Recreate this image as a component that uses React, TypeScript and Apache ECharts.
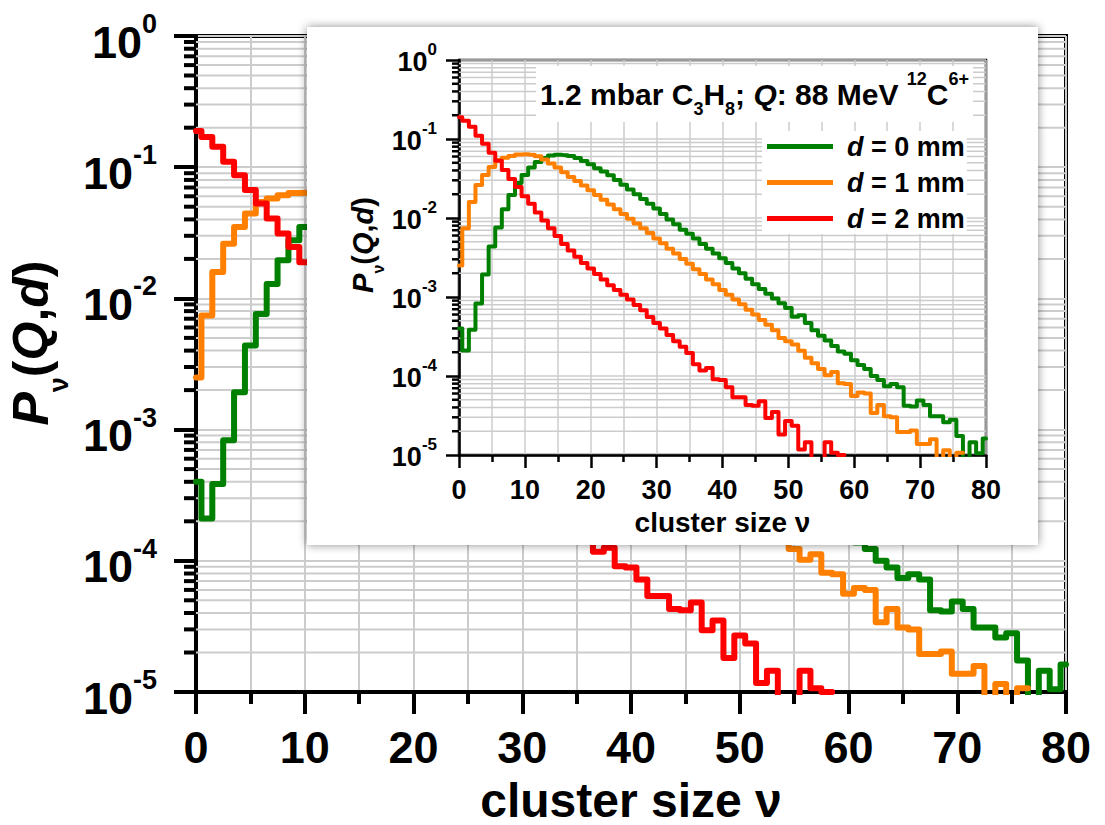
import React, { useEffect, useRef } from 'react';
import * as echarts from 'echarts';

const FONT = '"Liberation Sans", Arial, Helvetica, sans-serif';
const GRID_COLOR = '#cccccc';

// Bins with no counts are placed below the plotted range (drawn as drops to the axis).
const EMPTY = 1e-6;

// cluster size ν, one bin per integer
const clusterSizes: number[] = Array.from({ length: 81 }, (_, i) => i);

const seriesNames = ['d = 0 mm', 'd = 1 mm', 'd = 2 mm'];
const seriesColors = ['#008000', '#ff8000', '#ff0000'];

// P_ν(Q,d) for d = 0 mm
const pD0: (number | null)[] = [
  4.0e-4, 2.1e-4, 3.85e-4, 8.3e-4, 1.93e-3, 4.37e-3, 7.6e-3, 1.29e-2, 1.95e-2, 2.77e-2,
  3.5e-2, 4.37e-2, 5.13e-2, 5.75e-2, 6.17e-2, 6.31e-2, 6.25e-2, 6.1e-2, 5.75e-2, 5.25e-2,
  4.79e-2, 4.27e-2, 3.89e-2, 3.47e-2, 3.02e-2, 2.63e-2, 2.29e-2, 2.0e-2, 1.74e-2, 1.51e-2,
  1.32e-2, 1.12e-2, 9.55e-3, 8.32e-3, 7.08e-3, 6.31e-3, 5.5e-3, 4.68e-3, 4.07e-3, 3.55e-3,
  3.09e-3, 2.69e-3, 2.29e-3, 2.0e-3, 1.7e-3, 1.45e-3, 1.26e-3, 1.1e-3, 9.55e-4, 8.32e-4,
  7.24e-4, 5.62e-4, 5.89e-4, 4.68e-4, 3.8e-4, 3.24e-4, 2.82e-4, 2.4e-4, 2.04e-4, 1.91e-4,
  1.58e-4, 1.38e-4, 1.23e-4, 1.0e-4, 8.9e-5, 7.4e-5, 7.9e-5, 7.2e-5, 4.2e-5, 4.1e-5,
  4.9e-5, 4.3e-5, 3.1e-5, 3.1e-5, 2.6e-5, 2.8e-5, 1.74e-5, EMPTY, 1.45e-5, 1.05e-5,
  1.62e-5,
];

// P_ν(Q,d) for d = 1 mm
const pD1: (number | null)[] = [
  2.5e-3, 7.4e-3, 1.59e-2, 2.61e-2, 3.5e-2, 4.43e-2, 5.43e-2, 5.77e-2, 6.1e-2, 6.37e-2,
  6.4e-2, 6.3e-2, 6.03e-2, 5.5e-2, 4.9e-2, 4.37e-2, 3.8e-2, 3.31e-2, 2.95e-2, 2.57e-2,
  2.24e-2, 1.95e-2, 1.7e-2, 1.48e-2, 1.29e-2, 1.12e-2, 9.8e-3, 8.5e-3, 7.4e-3, 6.46e-3,
  5.5e-3, 4.79e-3, 4.07e-3, 3.55e-3, 3.02e-3, 2.63e-3, 2.24e-3, 1.95e-3, 1.66e-3, 1.45e-3,
  1.23e-3, 1.07e-3, 9.3e-4, 8.1e-4, 6.9e-4, 6.0e-4, 5.1e-4, 4.47e-4, 3.8e-4, 3.02e-4,
  2.75e-4, 2.51e-4, 2.09e-4, 1.7e-4, 1.45e-4, 1.23e-4, 1.02e-4, 1.12e-4, 8.1e-5, 7.9e-5,
  5.6e-5, 6.2e-5, 6.0e-5, 3.4e-5, 4.3e-5, 3.1e-5, 3.0e-5, 1.95e-5, 1.95e-5, 2.04e-5,
  1.38e-5, 1.38e-5, 1.58e-5, EMPTY, 1.15e-5, EMPTY, 1.07e-5, null, null, null,
  null,
];

// P_ν(Q,d) for d = 2 mm
const pD2: (number | null)[] = [
  0.189, 0.17, 0.143, 0.11, 0.087, 0.067, 0.053, 0.0406, 0.0312, 0.0247,
  0.0189, 1.51e-2, 1.17e-2, 9.3e-3, 7.4e-3, 5.9e-3, 4.68e-3, 3.89e-3, 3.24e-3, 2.69e-3,
  2.29e-3, 1.95e-3, 1.66e-3, 1.41e-3, 1.23e-3, 1.07e-3, 9.3e-4, 7.9e-4, 6.8e-4, 5.6e-4,
  4.68e-4, 3.98e-4, 3.31e-4, 2.75e-4, 2.34e-4, 1.95e-4, 1.41e-4, 1.17e-4, 1.26e-4, 9.1e-5,
  8.9e-5, 7.2e-5, 5.4e-5, 5.4e-5, 4.3e-5, 4.2e-5, 4.8e-5, 2.95e-5, 3.5e-5, 1.82e-5,
  2.7e-5, 2.34e-5, 1.17e-5, 1.45e-5, EMPTY, EMPTY, 1.45e-5, 1.07e-5, 1.0e-5, null,
  null, null, null, null, null, null, null, null, null, null,
  null, null, null, null, null, null, null, null, null, null,
  null,
];

const seriesValues = [pD0, pD1, pD2];

// Axis ranges
const X_MIN = 0;
const X_MAX = 80;
const X_STEP = 10;
const Y_MIN = 1e-5;
const Y_MAX = 1;

// Minor log positions 2..9 × 10^k inside the y range
const logMinorTicks: number[] = [];
for (let k = -5; k < 0; k++) {
  for (let m = 2; m <= 9; m++) logMinorTicks.push(m * Math.pow(10, k));
}

const exponentOf = (v: number) => Math.round(Math.log10(v));

type Sizes = {
  lineW: number;
  axisW: number;
  majorLen: number;
  minorLen: number;
  gridW: number;
  tickFont: number;
  supFont: number;
  labelLine: number;
  supHeight: number;
  labelPadTop: number;
  yLabelMargin: number;
  xLabelMargin: number;
  xNameFont: number;
  xNameGap: number;
  yNameFont: number;
  yNameLine: number;
  yNameSubFont: number;
  yNameSubHeight: number;
  yNameGap: number;
  yNameShift: number;
};

const mainSizes: Sizes = {
  lineW: 6, axisW: 4, majorLen: 22, minorLen: 12, gridW: 2,
  tickFont: 45, supFont: 27, labelLine: 60, supHeight: 24, labelPadTop: 12,
  yLabelMargin: 39, xLabelMargin: 33,
  xNameFont: 48, xNameGap: 84,
  yNameFont: 50, yNameLine: 78, yNameSubFont: 27, yNameSubHeight: 22, yNameGap: 156, yNameShift: 42,
};

const insetSizes: Sizes = {
  lineW: 4, axisW: 2.5, majorLen: 13, minorLen: 7, gridW: 1.5,
  tickFont: 27, supFont: 17, labelLine: 42, supHeight: 16, labelPadTop: 4,
  yLabelMargin: 22, xLabelMargin: 21,
  xNameFont: 28, xNameGap: 53,
  yNameFont: 29, yNameLine: 46, yNameSubFont: 16, yNameSubHeight: 16, yNameGap: 96, yNameShift: 25,
};

const bold = { fontFamily: FONT, fontWeight: 'bold' as const, color: '#000' };

function makeXAxis(gridIndex: number, s: Sizes, z: number) {
  return {
    type: 'value', gridIndex, z, min: X_MIN, max: X_MAX, interval: X_STEP,
    axisLine: { show: true, onZero: false, lineStyle: { color: '#000', width: s.axisW } },
    axisTick: { show: true, inside: false, length: s.majorLen, lineStyle: { color: '#000', width: s.axisW } },
    minorTick: { show: true, splitNumber: 2, length: s.minorLen, lineStyle: { color: '#000', width: s.axisW } },
    splitLine: { show: true, lineStyle: { color: GRID_COLOR, width: s.gridW } },
    minorSplitLine: { show: true, lineStyle: { color: GRID_COLOR, width: s.gridW } },
    axisLabel: { ...bold, fontSize: s.tickFont, margin: s.xLabelMargin },
    name: 'cluster size ν',
    nameLocation: 'middle',
    nameGap: s.xNameGap,
    nameTextStyle: { ...bold, fontSize: s.xNameFont },
  };
}

function makeYAxis(gridIndex: number, s: Sizes, z: number) {
  return {
    type: 'log', logBase: 10, gridIndex, z, min: Y_MIN, max: Y_MAX,
    axisLine: { show: true, lineStyle: { color: '#000', width: s.axisW } },
    axisTick: { show: true, inside: false, length: s.majorLen, lineStyle: { color: '#000', width: s.axisW } },
    minorTick: { show: false },
    splitLine: { show: true, lineStyle: { color: GRID_COLOR, width: s.gridW } },
    axisLabel: {
      margin: s.yLabelMargin,
      padding: [s.labelPadTop, 0, 0, 0],
      formatter: (v: number) => `{b|10}{s|${exponentOf(v)}}`,
      rich: {
        b: { ...bold, fontSize: s.tickFont, lineHeight: s.labelLine },
        s: { ...bold, fontSize: s.supFont, height: s.supHeight, verticalAlign: 'top' },
      },
    },
    name: '{i|P}{sub|ν}{n|(}{i|Q}{n|,}{i|d}{n|)}',
    nameLocation: 'middle',
    nameRotate: 90,
    nameGap: s.yNameGap,
    nameTextStyle: {
      align: 'center',
      verticalAlign: 'middle',
      padding: [0, 0, 0, s.yNameShift],
      rich: {
        i: { ...bold, fontStyle: 'italic', fontSize: s.yNameFont, lineHeight: s.yNameLine },
        n: { ...bold, fontSize: s.yNameFont, lineHeight: s.yNameLine },
        sub: { ...bold, fontSize: s.yNameSubFont, height: s.yNameSubHeight, verticalAlign: 'bottom' },
      },
    },
  };
}

// Gridlines and outer ticks at the minor log positions
function makeLogMinor(axisIndex: number, s: Sizes, z: number) {
  return {
    type: 'custom',
    xAxisIndex: axisIndex,
    yAxisIndex: axisIndex,
    z,
    silent: true,
    clip: false,
    data: logMinorTicks.map((v) => [X_MIN, v]),
    renderItem: (params: any, api: any) => {
      const y = api.coord([X_MIN, api.value(1)])[1];
      const cs = params.coordSys;
      return {
        type: 'group',
        children: [
          {
            type: 'line',
            shape: { x1: cs.x, y1: y, x2: cs.x + cs.width, y2: y },
            style: { stroke: GRID_COLOR, lineWidth: s.gridW },
          },
          {
            type: 'line',
            shape: { x1: cs.x - s.minorLen, y1: y, x2: cs.x, y2: y },
            style: { stroke: '#000', lineWidth: s.axisW },
          },
        ],
      };
    },
  };
}

function makeLines(axisIndex: number, s: Sizes, z: number) {
  return seriesValues.map((vals, k) => ({
    type: 'line',
    name: seriesNames[k],
    xAxisIndex: axisIndex,
    yAxisIndex: axisIndex,
    z,
    step: 'middle',
    symbol: 'none',
    showSymbol: false,
    silent: true,
    clip: true,
    connectNulls: false,
    color: seriesColors[k],
    lineStyle: { color: seriesColors[k], width: s.lineW, cap: 'round', join: 'round' },
    data: vals.map((v, i) => [clusterSizes[i], v]),
  }));
}

const titleRich = {
  n: { ...bold, fill: '#000', fontSize: 30, lineHeight: 48 },
  i: { ...bold, fill: '#000', fontStyle: 'italic', fontSize: 30, lineHeight: 48 },
  sb: { ...bold, fill: '#000', fontSize: 18, height: 18, verticalAlign: 'bottom' },
  sp: { ...bold, fill: '#000', fontSize: 18, height: 18, verticalAlign: 'top' },
};

export default function App() {
  const ref = useRef<HTMLDivElement>(null);

  useEffect(() => {
    if (!ref.current) return;
    const chart = echarts.init(ref.current, undefined, { renderer: 'svg' });

    const option: any = {
      animation: false,
      backgroundColor: '#ffffff',
      grid: [
        {
          left: 196, top: 36, width: 870, height: 656,
          show: true, borderColor: '#000', borderWidth: 4, backgroundColor: 'transparent',
          z: 0, outerBoundsMode: 'none', containLabel: false,
        },
        {
          left: 459, top: 60, width: 527, height: 395,
          show: true, borderColor: '#000', borderWidth: 2.5, backgroundColor: 'transparent',
          z: 20, outerBoundsMode: 'none', containLabel: false,
        },
      ],
      xAxis: [makeXAxis(0, mainSizes, 0), makeXAxis(1, insetSizes, 20)],
      yAxis: [makeYAxis(0, mainSizes, 0), makeYAxis(1, insetSizes, 20)],
      legend: {
        show: true,
        orient: 'vertical',
        left: 762,
        top: 131,
        padding: [2, 2, 2, 5],
        itemGap: 9,
        itemWidth: 66,
        itemHeight: 5,
        icon: 'rect',
        backgroundColor: '#ffffff',
        selectedMode: false,
        z: 30,
        data: seriesNames,
        formatter: (name: string) => `{i|d}{n|${name.slice(1)}}`,
        textStyle: {
          padding: [0, 0, 0, 9],
          rich: {
            i: { ...bold, fontStyle: 'italic', fontSize: 27, lineHeight: 30 },
            n: { ...bold, fontSize: 27, lineHeight: 30 },
          },
        },
      },
      graphic: {
        elements: [
          {
            type: 'rect',
            z: 10,
            silent: true,
            shape: { x: 307, y: 27, width: 731, height: 518 },
            style: { fill: '#ffffff', shadowBlur: 10, shadowColor: 'rgba(0,0,0,0.45)' },
          },
          {
            type: 'text',
            z: 30,
            silent: true,
            x: 536,
            y: 66,
            style: {
              text: '{n|1.2 mbar C}{sb|3}{n|H}{sb|8}{n|; }{i|Q}{n|: 88 MeV }{sp|12}{n|C}{sp|6+}',
              fill: '#000',
              rich: titleRich,
              backgroundColor: '#ffffff',
              padding: [4, 4, 4, 4],
            },
          },
        ],
      },
      series: [
        makeLogMinor(0, mainSizes, 1),
        ...makeLines(0, mainSizes, 2),
        makeLogMinor(1, insetSizes, 21),
        ...makeLines(1, insetSizes, 22),
      ],
    };

    chart.setOption(option);
    return () => chart.dispose();
  }, []);

  return (
    <div
      ref={ref}
      style={{ position: 'absolute', left: 0, top: 0, width: 1105, height: 825 }}
    />
  );
}
